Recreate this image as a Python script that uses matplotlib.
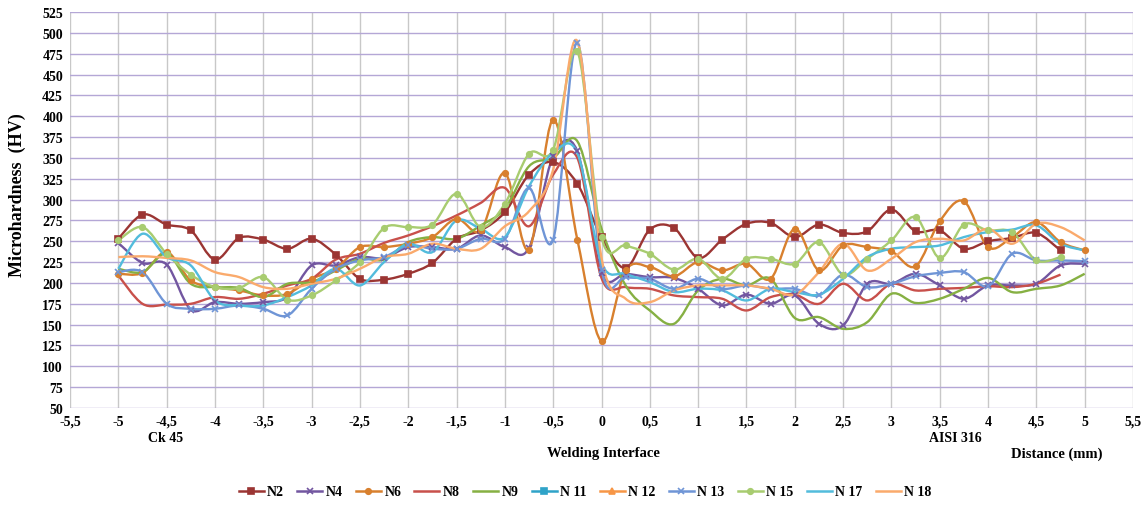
import numpy as np
import matplotlib.pyplot as plt
from matplotlib.path import Path
from matplotlib.patches import PathPatch
from matplotlib.lines import Line2D

plt.rcParams['font.family'] = ['Liberation Serif', 'DejaVu Serif']
plt.rcParams['font.weight'] = 'bold'
plt.rcParams['axes.unicode_minus'] = False

# distance from welding interface (mm), one reading every 0.25 mm
distance = [-5, -4.75, -4.5, -4.25, -4, -3.75, -3.5, -3.25, -3, -2.75, -2.5,
            -2.25, -2, -1.75, -1.5, -1.25, -1, -0.75, -0.5, -0.25, 0,
            0.25, 0.5, 0.75, 1, 1.25, 1.5, 1.75, 2, 2.25, 2.5,
            2.75, 3, 3.25, 3.5, 3.75, 4, 4.25, 4.5, 4.75, 5]

nan = np.nan
n2 = [253, 282, 270, 263, 228, 254, 252, 241, 253, 234, 205, 204, 211, 224, 253, 263, 285,
      330, 345, 319, 255, 218, 264, 266, 230, 252, 271, 272, 255, 270, 260, 262, 288, 262,
      263, 241, 250, 254, 260, 239, nan]
n4 = [248, 224, 222, 168, 177, 175, 177, 183, 221, 221, 231, 230, 243, 243, 241, 257, 243,
      242, 352, 358, 212, 211, 207, 206, 193, 173, 186, 175, 185, 151, 149, 199, 199, 211,
      197, 181, 197, 197, 199, 221, 223]
n6 = [211, 212, 237, 203, 195, 191, 185, 187, 205, 217, 243, 243, 247, 255, 277, 263, 332,
      240, 396, 252, 130, 215, 219, 208, 225, 215, 223, 205, 265, 215, 245, 243, 238, 220,
      274, 298, 243, 255, 273, 249, 239]
n8 = [209, 175, 174, 175, 183, 181, 187, 197, 205, 228, 235, 248, 257, 268, 281, 296, 314,
      268, 330, 350, 206, 195, 193, 185, 183, 181, 167, 183, 186, 175, 199, 179, 199, 191,
      193, 194, 196, 195, 199, 210, nan]
n9 = [217, 213, 235, 199, 195, 194, 183, 199, 201, 215, 229, 228, 249, 255, 253, 269, 289,
      340, 350, 370, 265, 197, 167, 151, 191, 205, 197, 205, 158, 159, 145, 153, 187, 176,
      181, 193, 206, 189, 193, 197, 211]
n11 = []
n12 = []
n13 = [213, 213, 175, 169, 169, 173, 169, 161, 193, 217, 227, 231, 245, 241, 241, 253, 253,
       314, 252, 488, 216, 207, 205, 193, 205, 193, 197, 193, 193, 185, 210, 195, 199, 208,
       212, 213, 196, 235, 227, 227, 226]
n15 = [251, 267, 235, 210, 195, 194, 207, 180, 185, 203, 225, 266, 267, 270, 307, 267, 295,
       355, 360, 478, 255, 245, 235, 216, 229, 205, 229, 229, 223, 249, 210, 229, 251, 279,
       230, 270, 263, 261, 227, 231, nan]
n17 = [217, 259, 231, 221, 179, 173, 173, 183, 197, 217, 197, 225, 247, 237, 275, 265, 255,
       316, 356, 356, 224, 211, 201, 189, 193, 191, 179, 193, 189, 186, 205, 231, 241, 243,
       245, 255, 261, 264, 269, 247, 239]
n18 = [231, 232, 230, 227, 213, 207, 195, 193, 199, 205, 217, 231, 235, 247, 241, 241, 268,
       286, 336, 490, 230, 181, 177, 191, 197, 197, 197, 193, 186, 213, 247, 215, 229, 249,
       253, 251, 265, 247, 271, 267, 251]

series = [
    ('N2', n2, '#9B3533', 's', 4.5),
    ('N4', n4, '#7256A0', 'x', 5),
    ('N6', n6, '#D8802E', 'o', 4),
    ('N8', n8, '#C8504B', None, 0),
    ('N9', n9, '#86B043', None, 0),
    ('N 11', n11, '#2FA3C8', 's', 5),
    ('N 12', n12, '#F79646', '^', 5),
    ('N 13', n13, '#6F95D6', 'x', 5),
    ('N 15', n15, '#A8CC70', 'o', 4),
    ('N 17', n17, '#52BCDC', None, 0),
    ('N 18', n18, '#FAAA6C', None, 0),
]


def smooth_path(xs, ys):
    # excel style smoothed line: cubic bezier through the points
    verts, codes = [], []
    n = len(xs)
    for i in range(n - 1):
        p0 = np.array([xs[max(i - 1, 0)], ys[max(i - 1, 0)]])
        p1 = np.array([xs[i], ys[i]])
        p2 = np.array([xs[i + 1], ys[i + 1]])
        p3 = np.array([xs[min(i + 2, n - 1)], ys[min(i + 2, n - 1)]])
        c1 = p1 + (p2 - p0) / 6
        c2 = p2 - (p3 - p1) / 6
        if i == 0:
            verts.append(p1)
            codes.append(Path.MOVETO)
        verts += [c1, c2, p2]
        codes += [Path.CURVE4] * 3
    return Path(verts, codes)


fig = plt.figure(figsize=(11.45, 5.06), dpi=100)
ax = fig.add_axes([70 / 1145, 1 - 409 / 506, 1063 / 1145, 396 / 506])

handles = []
for name, vals, color, marker, ms in series:
    x = np.array(distance[:len(vals)], dtype=float)
    y = np.array(vals, dtype=float)
    ok = ~np.isnan(y)
    xs, ys = x[ok], y[ok]
    if len(xs) > 1:
        ax.add_patch(PathPatch(smooth_path(xs, ys), facecolor='none', edgecolor=color,
                               lw=1.7, zorder=3))
    if marker and len(xs):
        ax.plot(xs, ys, ls='none', marker=marker, ms=ms, color=color, mew=1.2, zorder=4)
    handles.append(Line2D([], [], color=color, lw=1.8, marker=marker, ms=ms, mew=1.2,
                          label=name))

ax.set_xlim(-5.5, 5.5)
ax.set_ylim(50, 525)
xt = np.arange(-5.5, 5.51, 0.5)
ax.set_xticks(xt)
ax.set_xticklabels([('%g' % v).replace('.', ',') for v in xt], fontsize=10, fontweight='bold')
yt = np.arange(50, 526, 25)
ax.set_yticks(yt)
ax.set_yticklabels(['%d' % v for v in yt], fontsize=10, fontweight='bold')
ax.tick_params(length=0, pad=5)
ax.grid(axis='y', color='#B4A7D6', lw=1.0)
ax.grid(axis='x', color='#C8C8C8', lw=1.0)
ax.set_axisbelow(True)
for s in ax.spines.values():
    s.set_visible(False)

fig.text(17 / 1145, 1 - 195 / 506, 'Microhardness  (HV)', rotation=90, ha='center', va='center',
         fontsize=13, fontweight='bold')
fig.text(148 / 1145, 1 - 439 / 506, 'Ck 45', ha='left', va='center', fontsize=10, fontweight='bold')
fig.text(603 / 1145, 1 - 454 / 506, 'Welding Interface', ha='center', va='center', fontsize=10.5,
         fontweight='bold')
fig.text(955 / 1145, 1 - 439 / 506, 'AISI 316', ha='center', va='center', fontsize=10,
         fontweight='bold')
fig.text(1057 / 1145, 1 - 454 / 506, 'Distance (mm)', ha='center', va='center', fontsize=10.5,
         fontweight='bold')

fig.legend(handles=handles, loc='center', bbox_to_anchor=(585 / 1145, 1 - 493 / 506), ncol=11,
           frameon=False, fontsize=10, handlelength=1.8, handletextpad=0.25, columnspacing=0.95)

fig.savefig('out.png', dpi=100)
